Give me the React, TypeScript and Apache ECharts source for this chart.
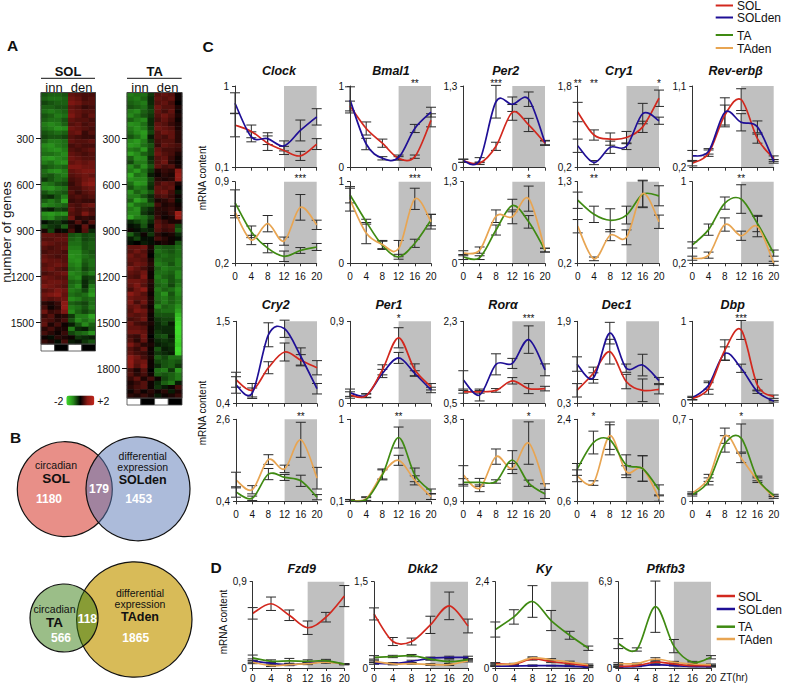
import React, { useEffect, useRef } from "react";
import * as echarts from "echarts";

const FONT = "Liberation Sans";
const RED = "#d2281e", BLUE = "#1f0f96", GREEN = "#3f8a12", ORANGE = "#e8a552";
const zt = [0, 4, 8, 12, 16, 20];

// Panel C, row 1
const ClockSOL = [.57,.50,.37,.29,.23,.36], ClockSOLe = [.13,.07,.08,.045,.05,.06];
const ClockSOLden = [.81,.44,.42,.34,.51,.66], ClockSOLdenE = [.115,.055,.065,.055,.115,.09];
const ClockTA = [.72,.47,.33,.26,.31,.34], ClockTAe = [.11,.05,.04,.045,.025,.03];
const ClockTAden = [.64,.40,.54,.39,.68,.53], ClockTAdenE = [.05,.04,.07,.035,.11,.04];
const Bmal1SOL = [.755,.48,.30,.115,.135,.58], Bmal1SOLe = [.06,.08,.05,.02,.02,.08];
const Bmal1SOLden = [.83,.29,.115,.125,.48,.68], Bmal1SOLdenE = [.16,.07,.02,.03,.05,.06];
const Bmal1TA = [.84,.51,.22,.08,.245,.53], Bmal1TAe = [.10,.03,.05,.03,.05,.07];
const Bmal1TAden = [.78,.37,.23,.18,.79,.51], Bmal1TAdenE = [.14,.13,.05,.10,.13,.09];
const Per2SOL = [.11,.07,.34,.88,.68,.39], Per2SOLe = [.025,.02,.065,.125,.105,.035];
const Per2SOLden = [.11,.12,1.05,1.01,1.09,.40], Per2SOLdenE = [.025,.04,.26,.115,.115,.035];
const Per2TA = [.10,.09,.53,.92,.66,.21], Per2TAe = [.04,.03,.08,.10,.10,.03];
const Per2TAden = [.16,.21,.75,.74,1.03,.21], Per2TAdenE = [.04,.05,.10,.11,.20,.03];
const Cry1SOL = [1.29,.84,.76,.79,1.0,1.56], Cry1SOLe = [.19,.10,.12,.12,.11,.16];
const Cry1SOLden = [.63,.30,.60,.62,1.26,1.12], Cry1SOLdenE = [.13,.04,.12,.065,.20,.07];
const Cry1TA = [1.05,.86,.78,.85,1.13,1.11], Cry1TAe = [.11,.11,.155,.12,.18,.135];
const Cry1TAden = [.70,.26,.58,.55,1.14,.76], Cry1TAdenE = [.09,.025,.075,.10,.18,.09];
const RevSOL = [.25,.36,.78,.95,.52,.30], RevSOLe = [.03,.035,.11,.12,.05,.03];
const RevSOLden = [.33,.38,.81,.70,.65,.27], RevSOLdenE = [.06,.03,.16,.095,.065,.02];
const RevTA = [.38,.53,.79,.83,.59,.30], RevTAe = [.03,.055,.06,.14,.08,.03];
const RevTAden = [.25,.28,.58,.47,.56,.20], RevTAdenE = [.02,.03,.065,.045,.10,.02];
// Panel C, row 2
const Cry2SOL = [.72,.58,.88,1.09,.98,.88], Cry2SOLe = [.10,.09,.08,.12,.075,.095];
const Cry2SOLden = [.65,.54,1.32,1.40,1.03,.60], Cry2SOLdenE = [.11,.07,.16,.115,.115,.07];
const Cry2TA = [.65,.48,1.13,1.04,.95,.51], Cry2TAe = [.14,.06,.15,.08,.15,.07];
const Cry2TAden = [.97,.71,1.52,1.27,2.05,1.02], Cry2TAdenE = [.21,.11,.13,.10,.47,.29];
const Per1SOL = [.095,.085,.37,.72,.37,.185], Per1SOLe = [.035,.02,.055,.11,.065,.035];
const Per1SOLden = [.12,.09,.33,.50,.33,.15], Per1SOLdenE = [.04,.02,.045,.06,.03,.03];
const Per1TA = [.11,.12,.39,.80,.39,.21], Per1TAe = [.01,.02,.055,.115,.075,.025];
const Per1TAden = [.11,.13,.40,.55,.33,.15], Per1TAdenE = [.01,.02,.055,.055,.05,.03];
const RoraSOL = [.76,.76,.79,1.0,.83,.83], RoraSOLe = [.03,.03,.04,.07,.11,.05];
const RoraSOLden = [1.02,.69,1.36,1.38,1.90,1.24], RoraSOLdenE = [.20,.13,.23,.11,.30,.13];
const RoraTA = [1.57,1.57,1.60,2.36,1.54,1.16], RoraTAe = [.13,.14,.06,.33,.11,.16];
const RoraTAden = [1.83,1.36,2.48,2.06,2.96,1.42], RoraTAdenE = [.33,.12,.27,.18,.75,.10];
const Dec1SOL = [.56,.89,1.31,.73,.56,.58], Dec1SOLe = [.13,.12,.24,.14,.22,.09];
const Dec1SOLden = [1.07,.80,1.67,.99,1.05,.75], Dec1SOLdenE = [.14,.10,.21,.08,.21,.06];
const Dec1TA = [1.30,1.89,1.95,1.40,1.32,.85], Dec1TAe = [.13,.25,.33,.22,.28,.11];
const Dec1TAden = [1.16,1.00,2.04,1.25,1.32,.66], Dec1TAdenE = [.13,.05,.30,.13,.28,.06];
const DbpSOL = [.06,.185,.65,.895,.225,.085], DbpSOLe = [.015,.07,.125,.115,.07,.02];
const DbpSOLden = [.07,.225,.61,.43,.145,.03], DbpSOLdenE = [.02,.05,.08,.05,.02,.01];
const DbpTA = [.055,.17,.49,.54,.195,.05], DbpTAe = [.01,.03,.07,.12,.02,.01];
const DbpTAden = [.07,.20,.56,.37,.18,.035], DbpTAdenE = [.01,.03,.065,.04,.02,.01];
// Panel D
const Fzd9SOL = [.57,.67,.55,.42,.53,.75], Fzd9SOLe = [.06,.07,.055,.07,.05,.11];
const Fzd9SOLden = [.075,.05,.035,.05,.065,.04], Fzd9SOLdenE = [.02,.01,.01,.01,.01,.005];
const Fzd9TA = [.105,.07,.075,.07,.075,.04], Fzd9TAe = [.03,.015,.025,.015,.015,.005];
const Fzd9TAden = [.06,.025,.035,.045,.06,.04], Fzd9TAdenE = [.015,.01,.01,.01,.01,.005];
const Dkk2SOL = [.94,.46,.46,.75,1.08,.73], Dkk2SOLe = [.105,.07,.06,.15,.24,.12];
const Dkk2SOLden = [.085,.075,.115,.17,.185,.185], Dkk2SOLdenE = [.02,.02,.02,.02,.02,.02];
const Dkk2TA = [.185,.20,.215,.155,.11,.145], Dkk2TAe = [.03,.02,.02,.02,.03,.02];
const Dkk2TAden = [.115,.07,.075,.06,.06,.125], Dkk2TAdenE = [.02,.01,.01,.015,.015,.02];
const KySOL = [.12,.11,.25,.18,.12,.065], KySOLe = [.03,.01,.03,.03,.03,.01];
const KySOLden = [.05,.055,.065,.065,.05,.02], KySOLdenE = [.01,.01,.02,.01,.01,.01];
const KyTA = [1.07,1.42,1.85,1.32,.91,.55], KyTAe = [.21,.20,.44,.28,.11,.06];
const KyTAden = [.09,.12,.28,.23,.16,.09], KyTAdenE = [.03,.01,.03,.03,.03,.02];
const PfkSOL = [.13,.19,.46,.32,.19,.19], PfkSOLe = [.05,.03,.07,.05,.03,.03];
const PfkSOLden = [.08,.13,.27,.19,.13,.10], PfkSOLdenE = [.03,.03,.05,.03,.03,.03];
const PfkTA = [1.95,1.48,4.9,1.75,.46,.86], PfkTAe = [.40,.13,2.05,.53,.07,.13];
const PfkTAden = [.35,.35,.72,.46,.32,.27], PfkTAdenE = [.07,.05,.10,.07,.05,.05];

// Panel A: coarse reading of the heat maps, in tenths of a log ratio, per block of genes
const solHeat = [
  [-6,-7,-7,-6,7,6,5,5],[-7,-8,-8,-7,8,7,5,6],[-5,-6,-7,-7,9,8,6,6],[-7,-7,-6,-6,7,6,4,5],[-8,-9,-8,-7,8,7,6,6],
  [-6,-7,-9,-8,9,7,5,7],[-7,-8,-8,-6,7,6,6,5],[-9,-10,-9,-7,6,7,5,6],[-8,-9,-11,-10,8,7,6,5],[-6,-7,-8,-7,7,8,4,6],
  [-5,-6,-6,-5,6,5,4,4],[-7,-9,-9,-8,7,6,6,7],[-10,-11,-9,-8,5,6,5,5],[-9,-10,-11,-9,6,5,6,7],[-8,-8,-9,-10,7,6,5,6],
  [-11,-12,-10,-9,8,7,6,6],[-9,-8,-10,-11,7,8,7,8],[-6,-7,-8,-7,9,9,8,8],[-8,-10,-11,-9,7,8,9,9],[-7,-6,-8,-9,6,7,8,7],
  [-4,-6,-8,-7,5,6,8,9],[-9,-8,-6,-5,4,6,9,10],[-10,-11,-9,-8,5,5,7,8],[-6,-8,-7,-6,6,4,6,7],[-4,-3,-6,-9,5,6,5,6],
  [-7,-9,-7,-13,4,5,4,4],[-10,-9,-8,-7,6,5,7,8],[-3,-2,-5,-4,7,5,6,5],[-11,-12,-10,-11,6,5,9,6],[-9,-10,-7,-6,8,3,4,3],
  [-1,-3,-4,-2,2,6,2,6],[-6,-4,-3,-7,3,1,7,1],[2,-5,1,-1,5,1,6,-3],
  [7,7,6,6,-6,-7,-5,-6],[6,6,7,7,-7,-8,-5,-6],[8,7,6,6,-8,-8,-6,-7],[6,5,6,7,-9,-9,-6,-7],[5,6,6,5,-10,-10,-7,-6],
  [7,6,5,6,-11,-10,-8,-7],[8,7,7,6,-10,-11,-7,-8],[6,7,8,7,-9,-10,-6,-8],[7,8,6,5,-8,-9,-5,-7],[5,6,7,8,-10,-9,-7,-9],
  [8,7,6,6,-9,-10,-4,-5],[7,8,8,7,-7,-8,-3,-6],[9,8,7,6,-8,-10,-3,-9],[6,7,9,8,-9,-8,-5,-10],[8,9,10,7,-8,-7,-8,-12],
  [7,6,7,8,-10,-9,-7,-8],[3,2,4,10,-7,-6,-5,-8],[5,1,3,11,-9,-8,-6,-9],[8,4,5,9,-10,-7,-5,-7],[4,6,2,3,-4,-9,-9,-13],
  [6,5,3,5,-6,-10,-8,-10],[7,2,5,1,-2,-6,-10,-7],[3,5,2,2,-9,-3,-2,-6],[5,3,1,4,-5,-7,-8,-11],[1,-1,3,2,1,-4,-3,-2],[4,2,-1,5,-2,-1,-4,-6],
];
const taHeat = [
  [-9,-8,-8,-4,6,7,6,1],[-8,-9,-7,-3,7,6,7,1],[-7,-8,-9,-3,6,7,5,0],[-6,-7,-8,-4,8,6,6,2],[-9,-10,-7,-5,7,5,7,1],
  [-10,-8,-6,-4,6,8,6,2],[-7,-9,-10,-3,5,7,5,1],[-11,-10,-8,-3,7,6,4,2],[-9,-11,-9,-4,8,7,6,2],[-8,-10,-12,-5,6,8,7,3],
  [-6,-8,-11,-2,6,5,7,3],[-10,-12,-9,-4,5,6,6,3],[-12,-11,-8,-6,4,7,6,5],[-9,-8,-12,-5,7,5,5,4],[-13,-10,-7,-5,8,6,5,2],
  [-7,-11,-10,-3,6,7,4,1],[-5,-9,-9,-4,6,8,3,1],[-10,-7,-11,-6,7,5,6,2],[-9,-12,-8,-4,2,4,3,10],[-14,-8,-9,-2,1,3,2,12],
  [-11,-10,-10,-5,3,2,3,11],[-8,-12,-11,-4,5,7,6,2],[-6,-9,-8,-3,7,6,7,0],[-11,-7,-9,-6,7,8,5,-2],[-9,-9,-6,-3,5,6,4,1],
  [-7,-13,-10,-4,2,3,5,-1],[-12,-8,-7,-7,5,2,3,1],[-9,-11,-5,-3,3,3,4,2],[-10,-10,-4,-2,3,2,4,13],[-13,-9,-8,-5,4,1,2,12],
  [-3,-5,-7,-3,6,4,2,2],[-1,-2,-6,-1,7,5,6,-5],[1,-1,-3,-2,6,4,5,-7],[-7,-3,1,-4,3,1,2,-3],[-2,-5,-1,-1,5,3,1,-1],[-1,0,-2,-1,1,2,1,-6],
  [7,7,8,2,-7,-6,-6,-8],[6,8,6,1,-8,-7,-6,-8],[8,6,7,0,-7,-8,-7,-8],[7,7,6,2,-8,-7,-7,-9],[6,8,7,3,-9,-8,-6,-9],
  [9,7,5,2,-7,-9,-8,-8],[7,6,8,1,-8,-8,-7,-10],[6,5,9,1,-9,-7,-6,-10],[8,8,7,3,-8,-9,-6,-8],[7,9,6,2,-7,-8,-5,-9],
  [5,8,10,2,-9,-7,-8,-11],[10,8,6,1,-8,-11,-6,-10],[8,7,7,2,-8,-9,-7,-9],[9,5,8,2,-7,-9,-7,-9],[7,8,5,1,-10,-7,-8,-11],
  [6,9,8,2,-7,-8,-8,-13],[7,6,7,1,-6,-6,-6,-16],[5,6,8,1,-4,-5,-5,-18],[8,5,4,2,-3,-5,-2,-19],[7,7,6,1,-3,-3,-3,-20],
  [8,8,7,1,-4,-3,-3,-20],[5,4,8,0,-5,-6,-2,-19],[6,3,7,1,-3,-4,-3,-19],[9,6,3,2,-2,-3,-4,-18],[6,4,7,1,-6,-2,-3,-20],
  [7,5,4,1,-4,-3,-2,-19],[10,8,5,2,-7,-5,-8,-8],[11,7,8,1,-5,-6,-7,-6],[10,6,9,1,-3,-6,-7,-4],[5,2,6,0,-8,-9,-4,-12],
  [6,3,5,1,-7,-6,-7,-9],[4,7,2,5,1,-5,-7,-9],[2,4,6,1,-3,-7,-9,-2],[3,5,6,1,-4,-2,1,5],[1,4,1,3,1,3,-2,2],[3,2,4,2,-2,1,2,4],
];
const heatColumns = ["1", "2", "3", "4", "5", "6", "7", "8"];
const geneTicks = [300, 600, 900, 1200, 1500];
const taGeneTicks = [300, 600, 900, 1200, 1500, 1800];

type S = [number[], number[], string];
type P = { gene: string; min: number; max: number; series: S[]; stars: [number, string][] };

const row1Top: P[] = [
  { gene: "Clock", min: .1, max: 1, series: [[ClockSOL, ClockSOLe, RED], [ClockSOLden, ClockSOLdenE, BLUE]], stars: [] },
  { gene: "Bmal1", min: 0, max: 1, series: [[Bmal1SOL, Bmal1SOLe, RED], [Bmal1SOLden, Bmal1SOLdenE, BLUE]], stars: [[16, "**"]] },
  { gene: "Per2", min: 0, max: 1.3, series: [[Per2SOL, Per2SOLe, RED], [Per2SOLden, Per2SOLdenE, BLUE]], stars: [[8, "***"]] },
  { gene: "Cry1", min: .2, max: 1.8, series: [[Cry1SOL, Cry1SOLe, RED], [Cry1SOLden, Cry1SOLdenE, BLUE]], stars: [[0, "**"], [4, "**"], [20, "*"]] },
  { gene: "Rev-erbβ", min: .2, max: 1.1, series: [[RevSOL, RevSOLe, RED], [RevSOLden, RevSOLdenE, BLUE]], stars: [] },
];
const row1Bottom: P[] = [
  { gene: "", min: .2, max: .9, series: [[ClockTA, ClockTAe, GREEN], [ClockTAden, ClockTAdenE, ORANGE]], stars: [[16, "***"]] },
  { gene: "", min: 0, max: 1, series: [[Bmal1TA, Bmal1TAe, GREEN], [Bmal1TAden, Bmal1TAdenE, ORANGE]], stars: [[16, "***"]] },
  { gene: "", min: 0, max: 1.3, series: [[Per2TA, Per2TAe, GREEN], [Per2TAden, Per2TAdenE, ORANGE]], stars: [[16, "*"]] },
  { gene: "", min: .2, max: 1.3, series: [[Cry1TA, Cry1TAe, GREEN], [Cry1TAden, Cry1TAdenE, ORANGE]], stars: [[4, "**"]] },
  { gene: "", min: .2, max: 1, series: [[RevTA, RevTAe, GREEN], [RevTAden, RevTAdenE, ORANGE]], stars: [[12, "**"]] },
];
const row2Top: P[] = [
  { gene: "Cry2", min: .4, max: 1.5, series: [[Cry2SOL, Cry2SOLe, RED], [Cry2SOLden, Cry2SOLdenE, BLUE]], stars: [] },
  { gene: "Per1", min: 0, max: .9, series: [[Per1SOLden, Per1SOLdenE, BLUE], [Per1SOL, Per1SOLe, RED]], stars: [[12, "*"]] },
  { gene: "Rorα", min: .5, max: 2.3, series: [[RoraSOL, RoraSOLe, RED], [RoraSOLden, RoraSOLdenE, BLUE]], stars: [[16, "***"]] },
  { gene: "Dec1", min: .3, max: 1.9, series: [[Dec1SOL, Dec1SOLe, RED], [Dec1SOLden, Dec1SOLdenE, BLUE]], stars: [] },
  { gene: "Dbp", min: 0, max: 1, series: [[DbpSOLden, DbpSOLdenE, BLUE], [DbpSOL, DbpSOLe, RED]], stars: [[12, "***"]] },
];
const row2Bottom: P[] = [
  { gene: "", min: .4, max: 2.6, series: [[Cry2TA, Cry2TAe, GREEN], [Cry2TAden, Cry2TAdenE, ORANGE]], stars: [[16, "**"]] },
  { gene: "", min: .1, max: 1, series: [[Per1TAden, Per1TAdenE, ORANGE], [Per1TA, Per1TAe, GREEN]], stars: [[12, "**"]] },
  { gene: "", min: .9, max: 3.8, series: [[RoraTAden, RoraTAdenE, ORANGE], [RoraTA, RoraTAe, GREEN]], stars: [[16, "*"]] },
  { gene: "", min: .6, max: 2.4, series: [[Dec1TAden, Dec1TAdenE, ORANGE], [Dec1TA, Dec1TAe, GREEN]], stars: [[4, "*"]] },
  { gene: "", min: 0, max: .7, series: [[DbpTAden, DbpTAdenE, ORANGE], [DbpTA, DbpTAe, GREEN]], stars: [[12, "*"]] },
];
const rowD: P[] = [
  { gene: "Fzd9", min: 0, max: .9, series: [[Fzd9SOLden, Fzd9SOLdenE, BLUE], [Fzd9TAden, Fzd9TAdenE, ORANGE], [Fzd9TA, Fzd9TAe, GREEN], [Fzd9SOL, Fzd9SOLe, RED]], stars: [] },
  { gene: "Dkk2", min: 0, max: 1.5, series: [[Dkk2SOLden, Dkk2SOLdenE, BLUE], [Dkk2TAden, Dkk2TAdenE, ORANGE], [Dkk2TA, Dkk2TAe, GREEN], [Dkk2SOL, Dkk2SOLe, RED]], stars: [] },
  { gene: "Ky", min: 0, max: 2.4, series: [[KySOLden, KySOLdenE, BLUE], [KySOL, KySOLe, RED], [KyTAden, KyTAdenE, ORANGE], [KyTA, KyTAe, GREEN]], stars: [] },
  { gene: "Pfkfb3", min: 0, max: 6.9, series: [[PfkSOLden, PfkSOLdenE, BLUE], [PfkSOL, PfkSOLe, RED], [PfkTAden, PfkTAdenE, ORANGE], [PfkTA, PfkTAe, GREEN]], stars: [] },
];

const colX = [[235, 316.7], [350, 431], [463.3, 545], [577.7, 659], [692.3, 773.7]];
const colX2 = [[236, 317], [350, 431], [463.3, 545], [577, 659], [692.3, 773.7]];
const colD = [[252.7, 344.3], [374, 468], [495.3, 588.3], [618.3, 711]];
const titleX1 = [279, 391, 505.7, 619, 735.7];
const titleX2 = [275.7, 389, 503, 616.7, 732.7];
const titleXD = [301.7, 422.7, 544, 665.7];

function text(t: string, x: number, y: number, size: number, extra: any = {}) {
  const { rotation, ...style } = extra;
  return {
    type: "text", x, y, rotation, silent: true,
    style: { text: t, fontSize: size, fontFamily: FONT, fill: "#111", align: "center", verticalAlign: "middle", ...style },
  };
}

function errorRender(_p: any, api: any) {
  const x = api.value(0);
  const a = api.coord([x, api.value(1)]);
  const b = api.coord([x, api.value(2)]);
  const s = { stroke: "#2a2a2a", lineWidth: 1 };
  const line = (x1: number, y1: number, x2: number, y2: number) => ({ type: "line", shape: { x1, y1, x2, y2 }, style: s });
  return { type: "group", children: [line(a[0], a[1], b[0], b[1]), line(a[0] - 5, a[1], a[0] + 5, a[1]), line(b[0] - 5, b[1], b[0] + 5, b[1])] };
}

// The reference's curves are spline-smoothed through the time points, so they peak between ticks.
function splineRender(vals: number[], color: string) {
  return (params: any, api: any) => {
    if (params.dataIndex !== 0) return null;
    const p = zt.map((x, k) => api.coord([x, vals[k]]));
    let d = `M${p[0][0]} ${p[0][1]}`;
    for (let k = 0; k < p.length - 1; k++) {
      const a = p[Math.max(k - 1, 0)], b = p[k], c = p[k + 1], e = p[Math.min(k + 2, p.length - 1)];
      const c1 = [b[0] + (c[0] - a[0]) / 6, b[1] + (c[1] - a[1]) / 6];
      const c2 = [c[0] - (e[0] - b[0]) / 6, c[1] - (e[1] - b[1]) / 6];
      d += `C${c1[0]} ${c1[1]} ${c2[0]} ${c2[1]} ${c[0]} ${c[1]}`;
    }
    return { type: "path", shape: { pathData: d }, style: { fill: "none", stroke: color, lineWidth: 1.7, lineJoin: "round" } };
  };
}

function buildOption() {
  const grid: any[] = [], xAxis: any[] = [], yAxis: any[] = [], series: any[] = [], graphic: any[] = [];
  const fmt = (v: number) => String(v).replace(".", ",");

  const addPanel = (p: P, xs: number[], top: number, bottom: number, showX: boolean, labelMargin: number) => {
    const i = grid.length;
    grid.push({ left: xs[0], top, width: xs[1] - xs[0], height: bottom - top, containLabel: false });
    xAxis.push({
      gridIndex: i, type: "value", min: 0, max: 20, interval: 4, z: 5,
      axisLine: { onZero: false, lineStyle: { color: "#333", width: 1 } },
      axisTick: { show: true, length: 3, lineStyle: { color: "#333" } },
      splitLine: { show: false },
      axisLabel: { show: showX, margin: labelMargin, fontSize: 10, color: "#111", fontFamily: FONT },
    });
    yAxis.push({
      gridIndex: i, type: "value", min: p.min, max: p.max, z: 5,
      axisLine: { show: true, onZero: false, lineStyle: { color: "#333", width: 1 } },
      axisTick: { show: true, length: 3, customValues: [p.min, p.max], lineStyle: { color: "#333" } },
      splitLine: { show: false },
      axisLabel: { margin: 6, fontSize: 10, color: "#111", fontFamily: FONT, customValues: [p.min, p.max], formatter: fmt },
    });
    series.push({
      type: "custom", xAxisIndex: i, yAxisIndex: i, z: 1, silent: true, data: [], renderItem: () => null,
      markArea: { silent: true, z: 1, itemStyle: { color: "#c0c0c0" }, label: { show: false }, data: [[{ xAxis: 12 }, { xAxis: 20 }]] },
    });
    for (const [vals, errs] of p.series) {
      series.push({
        type: "custom", xAxisIndex: i, yAxisIndex: i, z: 2, silent: true, renderItem: errorRender,
        encode: { x: 0, y: [1, 2] },
        data: zt.map((x, k) => [x, vals[k] - errs[k], vals[k] + errs[k]]),
      });
    }
    for (const [vals, , color] of p.series) {
      series.push({
        type: "custom", xAxisIndex: i, yAxisIndex: i, z: 3, silent: true, renderItem: splineRender(vals, color),
        encode: { x: 0, y: 1 }, data: zt.map((x, k) => [x, vals[k]]),
      });
    }
    for (const [x, s] of p.stars) {
      graphic.push(text(s, xs[0] + (xs[1] - xs[0]) * x / 20, top - 3, 10));
    }
  };

  row1Top.forEach((p, i) => addPanel(p, colX[i], 86, 167.7, false, 8));
  row1Bottom.forEach((p, i) => addPanel(p, colX[i], 181.7, 263.3, true, 8));
  row2Top.forEach((p, i) => addPanel(p, colX2[i], 321.3, 403.7, false, 8));
  row2Bottom.forEach((p, i) => addPanel(p, colX2[i], 419.3, 501.3, true, 8));
  rowD.forEach((p, i) => addPanel(p, colD[i], 581.7, 668.3, true, 5));

  const boldItalic = { fontWeight: "bold", fontStyle: "italic" };
  row1Top.forEach((p, i) => graphic.push(text(p.gene, titleX1[i], 71, 12.5, boldItalic)));
  row2Top.forEach((p, i) => graphic.push(text(p.gene, titleX2[i], 305, 12.5, boldItalic)));
  rowD.forEach((p, i) => graphic.push(text(p.gene, titleXD[i], 569, 12.5, boldItalic)));

  // Heat maps
  const addHeat = (rows: number[][], left: number, width: number, top: number, height: number, total: number, ticks: number[]) => {
    const i = grid.length;
    grid.push({ left, top, width, height });
    xAxis.push({ gridIndex: i, type: "category", data: heatColumns, show: false });
    yAxis.push({ gridIndex: i, type: "category", inverse: true, data: rows.map((_, k) => String(k)), show: false });
    series.push({
      type: "heatmap", xAxisIndex: i, yAxisIndex: i, silent: true, progressive: 0,
      data: rows.flatMap((r, y) => r.map((v, x) => [x, y, v / 10])),
    });
    const j = grid.length;
    grid.push({ left, top, width, height, show: true, borderColor: "#444", borderWidth: 1, backgroundColor: "transparent", z: 4 });
    xAxis.push({ gridIndex: j, type: "value", min: 0, max: 1, show: false });
    yAxis.push({
      gridIndex: j, type: "value", inverse: true, min: 0, max: total, splitLine: { show: false }, z: 5,
      axisLine: { show: false },
      axisTick: { show: true, length: 5, customValues: ticks, lineStyle: { color: "#111" } },
      axisLabel: { customValues: ticks, margin: 7, fontSize: 10.5, color: "#111", fontFamily: FONT, formatter: (v: number) => String(v) },
    });
  };
  addHeat(solHeat, 41, 54.5, 92.5, 251.5, 1640, geneTicks);
  addHeat(taHeat, 127, 55, 92.5, 305.5, 1992, taGeneTicks);

  const heatSeries = series.map((s, k) => (s.type === "heatmap" ? k : -1)).filter((k) => k >= 0);

  const strip = (x: number, y: number, w: number, fill: string) => ({
    type: "rect", silent: true, shape: { x, y, width: w, height: 7 }, style: { fill, stroke: "#444", lineWidth: 0.8 },
  });
  graphic.push(
    strip(41, 344, 13.6, "#fff"), strip(54.6, 344, 13.6, "#000"), strip(68.2, 344, 13.6, "#fff"), strip(81.8, 344, 13.7, "#000"),
    strip(127, 398, 13.8, "#fff"), strip(140.8, 398, 13.8, "#000"), strip(154.6, 398, 13.7, "#fff"), strip(168.3, 398, 13.7, "#000"),
  );
  const rule = (x1: number, x2: number, y: number) => ({
    type: "line", silent: true, shape: { x1, y1: y, x2, y2: y }, style: { stroke: "#111", lineWidth: 1 },
  });
  graphic.push(
    rule(41, 95, 78.3), rule(127, 181.7, 78.3),
    text("SOL", 68, 71.5, 13, { fontWeight: "bold" }), text("TA", 154.7, 71.5, 13, { fontWeight: "bold" }),
    text("inn", 54, 87, 13), text("den", 81.7, 87, 13), text("inn", 140, 87, 13), text("den", 167.7, 87, 13),
    text("number of genes", 6.5, 232, 13.5, { rotation: Math.PI / 2 }),
    text("A", 12.5, 45, 15.5, { fontWeight: "bold" }), text("B", 15.5, 437.5, 15.5, { fontWeight: "bold" }),
    text("C", 208, 46, 15.5, { fontWeight: "bold" }), text("D", 216, 567, 15.5, { fontWeight: "bold" }),
  );

  // Venn diagrams
  const circle = (cx: number, cy: number, r: number, fill: string) => ({
    type: "circle", silent: true, shape: { cx, cy, r }, style: { fill, stroke: "#111", lineWidth: 1.2 },
  });
  graphic.push(
    circle(64.8, 489.2, 47.5, "#e88f88"), circle(138, 488.8, 52, "rgba(89,119,181,0.5)"),
    circle(134.3, 619.5, 57.7, "#d8bb58"), circle(64, 618, 34, "rgba(55,125,17,0.5)"),
  );
  const w = { fill: "#fff", fontWeight: "bold" };
  const b = { fontWeight: "bold" };
  graphic.push(
    text("circadian", 56, 465, 10.5), text("SOL", 56, 478.7, 13.5, b), text("1180", 49, 499, 12, w), text("179", 99, 489, 12, w),
    text("differential", 142.7, 456, 10.5), text("expression", 142.7, 467, 10.5), text("SOLden", 142.7, 480, 12.5, b), text("1453", 138.7, 499, 12, w),
    text("circadian", 54.5, 609, 10.5), text("TA", 54.5, 622, 13.5, b), text("566", 61, 637.7, 12, w), text("118", 87.3, 618.7, 12, w),
    text("differential", 140, 592.7, 10.5), text("expression", 140, 604, 10.5), text("TAden", 140, 617, 12.5, b), text("1865", 135.7, 637.7, 12, w),
  );

  // mRNA labels, legends
  const rot = { rotation: Math.PI / 2 };
  graphic.push(
    text("mRNA content", 202, 178, 10, rot), text("mRNA content", 202, 413, 10, rot), text("mRNA content", 223, 622, 10, rot),
    text("ZT(hr)", 734, 677.7, 10),
  );
  const legend = (x1: number, x2: number, tx: number, y: number, label: string, color: string, lw: number) => [
    { type: "line", silent: true, shape: { x1, y1: y, x2, y2: y }, style: { stroke: color, lineWidth: lw } },
    text(label, tx, y + 0.5, 12, { align: "left" }),
  ];
  graphic.push(
    ...legend(715.7, 733, 737, 5.5, "SOL", RED, 2), ...legend(715.7, 733, 737, 17.5, "SOLden", BLUE, 2),
    ...legend(715.7, 733, 737, 35, "TA", GREEN, 2), ...legend(715.7, 733, 737, 48, "TAden", ORANGE, 2),
    ...legend(716.7, 735, 738, 596, "SOL", RED, 2.5), ...legend(716.7, 735, 738, 609, "SOLden", BLUE, 2.5),
    ...legend(716.7, 735, 738, 626.7, "TA", GREEN, 2.5), ...legend(716.7, 735, 738, 639, "TAden", ORANGE, 2.5),
  );

  return {
    animation: false,
    backgroundColor: "#fff",
    textStyle: { fontFamily: FONT },
    grid, xAxis, yAxis, series,
    visualMap: {
      type: "continuous", min: -2, max: 2, seriesIndex: heatSeries, orient: "horizontal",
      left: 39, top: 380, itemWidth: 10, itemHeight: 28, textGap: 3, text: ["+2", "-2"],
      textStyle: { fontSize: 10.5, color: "#111", fontFamily: FONT },
      inRange: { color: ["#3fdc2a", "#26881a", "#000000", "#8a1a14", "#c2261c"] },
      calculable: false, hoverLink: false,
    },
    graphic: { elements: graphic },
  };
}

export default function App() {
  const ref = useRef<HTMLDivElement>(null);
  useEffect(() => {
    const chart = echarts.init(ref.current!, undefined, { renderer: "svg" });
    chart.setOption(buildOption() as any);
    return () => chart.dispose();
  }, []);
  return <div ref={ref} style={{ position: "absolute", left: 0, top: 0, width: 787, height: 683 }} />;
}
